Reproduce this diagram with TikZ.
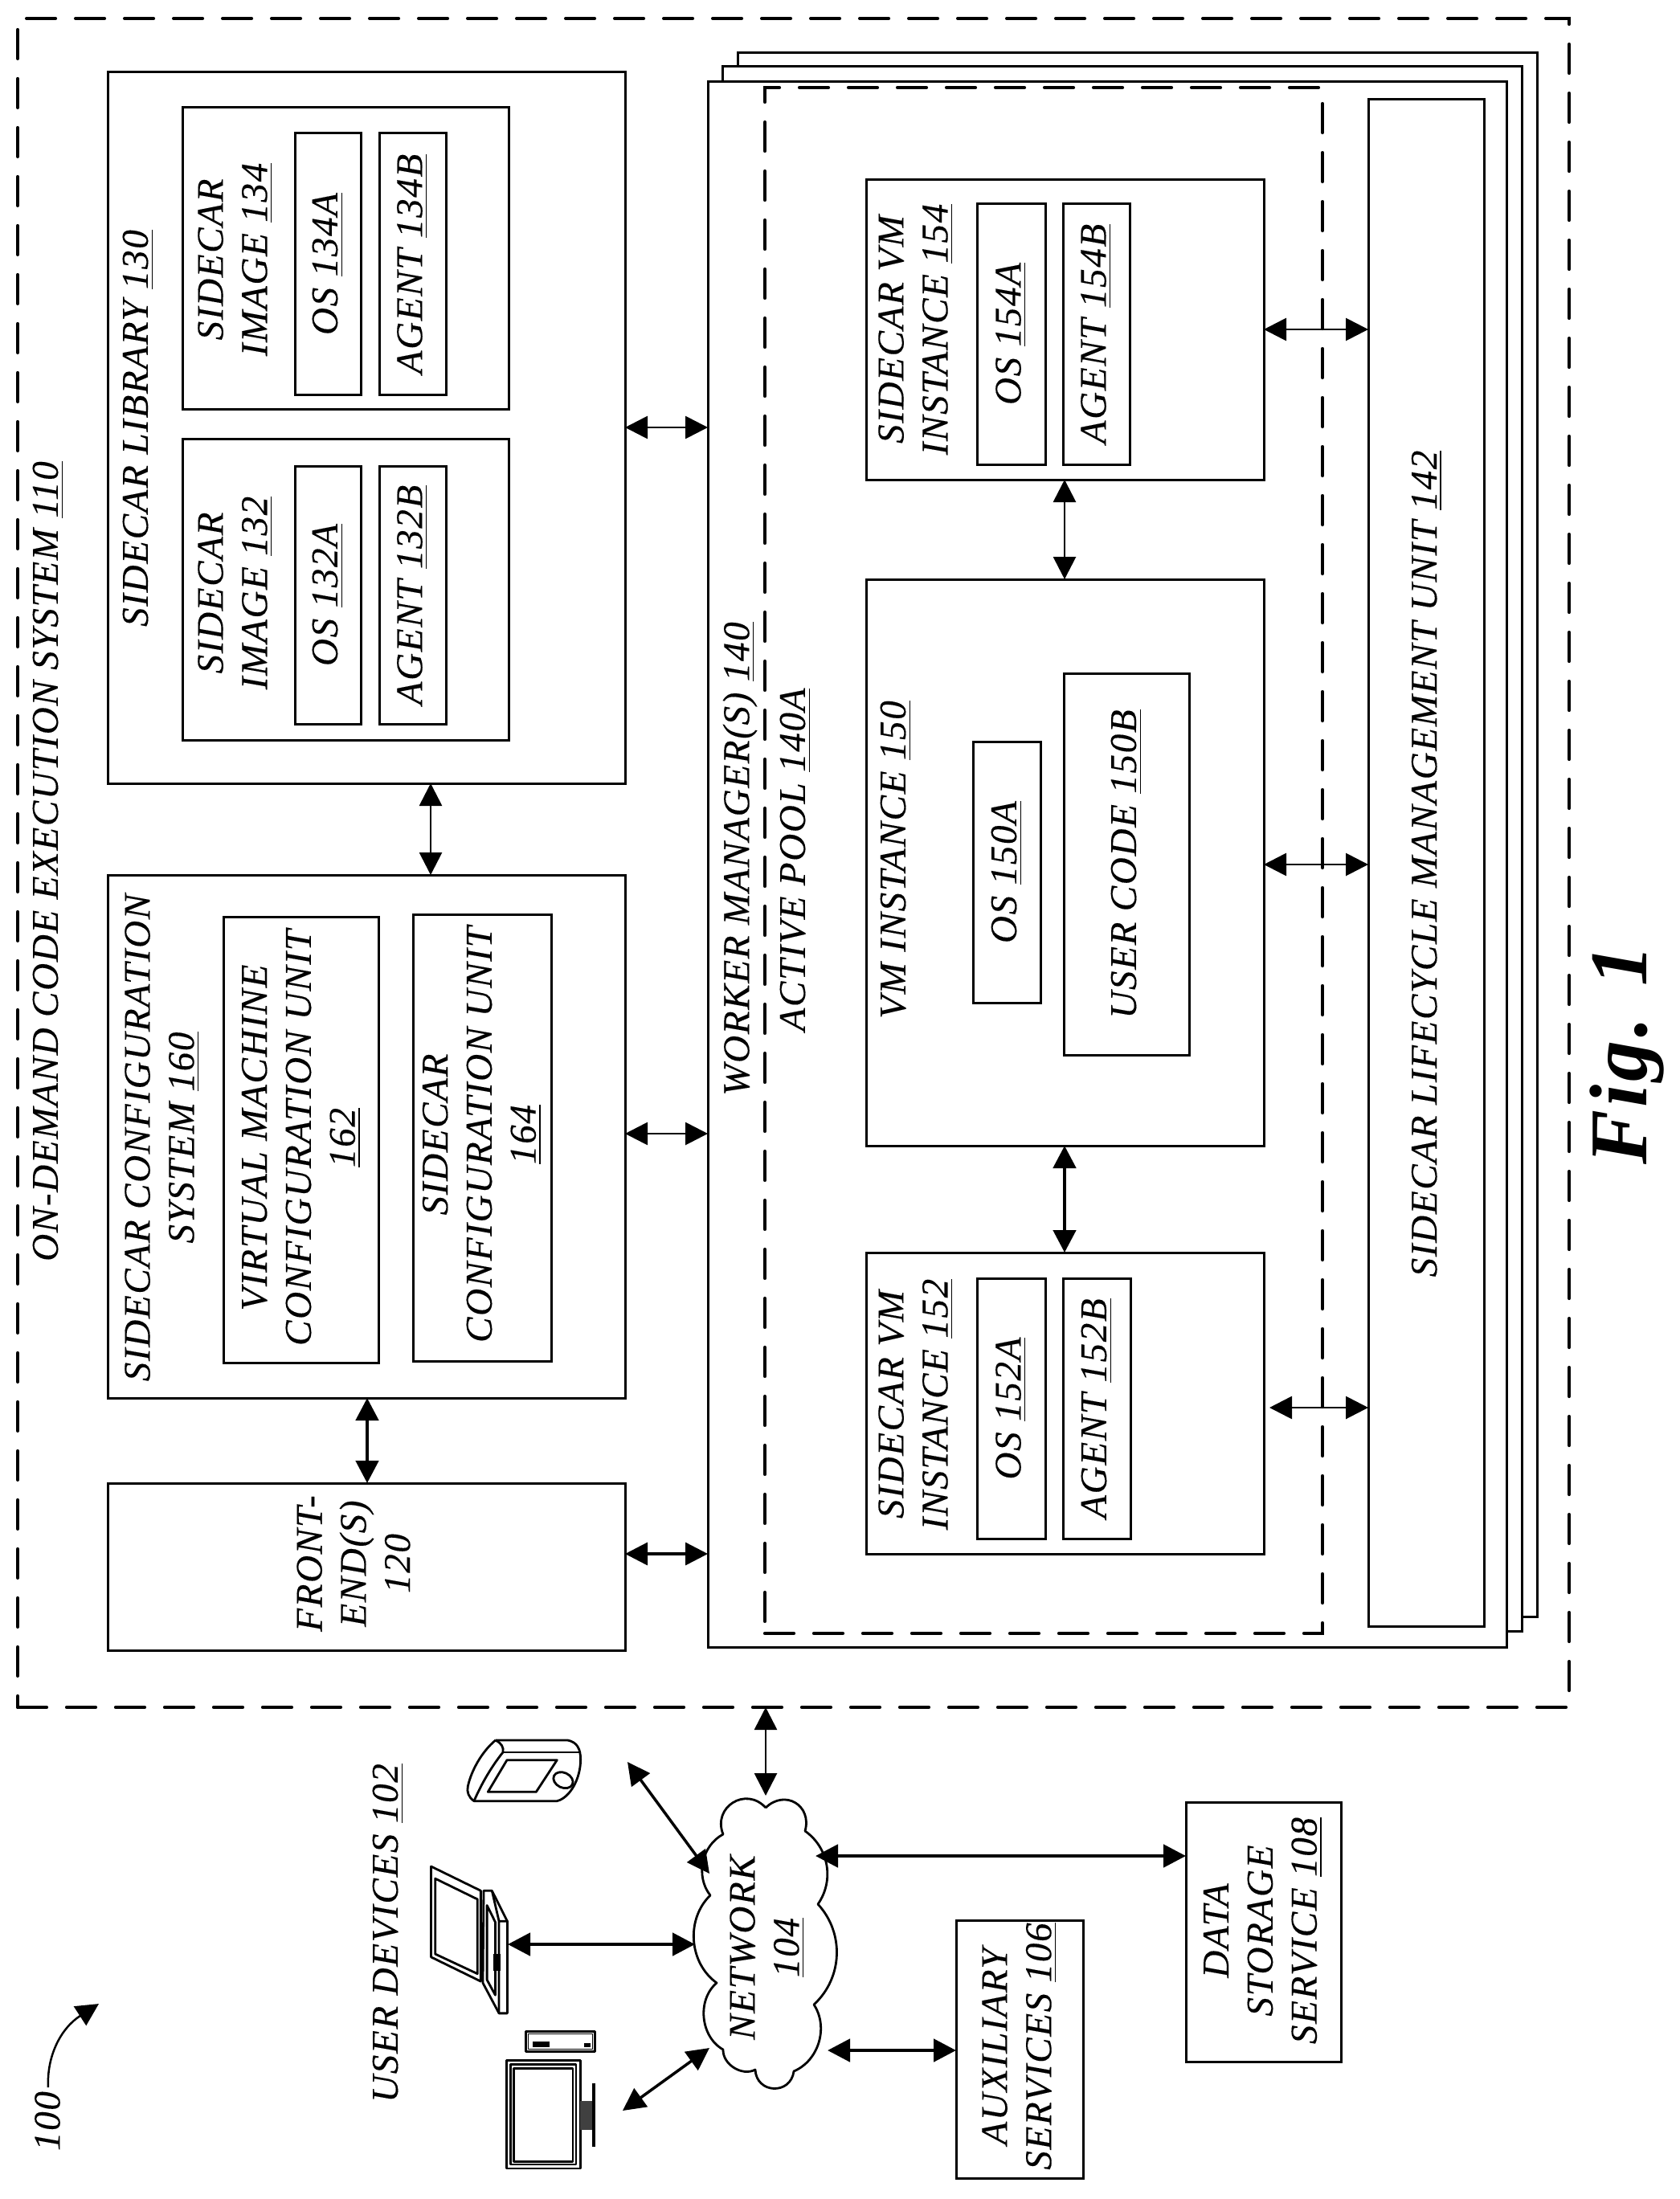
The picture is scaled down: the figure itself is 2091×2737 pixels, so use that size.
\documentclass[tikz,border=0pt]{standalone}
\usepackage{fontspec}
\setmainfont[LetterSpace=3.5,ItalicFeatures={FakeBold=0.2}]{Liberation Serif}
\usepackage{xcolor}
\usepackage{tikz}
\usetikzlibrary{arrows.meta, positioning, calc}
\newcommand{\refn}[1]{\underline{#1}}

\begin{document}
\begin{tikzpicture}[
    x=0.1mm, y=-0.1mm,
    box/.style 2 args={rectangle, draw=black, fill=white, line width=0.3mm, inner sep=0pt,
                      outer sep=0pt, minimum width=#1*0.1mm, minimum height=#2*0.1mm},
    pool/.style 2 args={rectangle, draw=black, line width=0.42mm, inner sep=0pt, outer sep=0pt,
                      dash pattern=on 3.6mm off 2.5mm, line cap=round,
                      minimum width=#1*0.1mm, minimum height=#2*0.1mm},
    lab/.style={rotate=90, align=center, inner sep=0pt,
                font=\fontsize{13.4}{15.6}\selectfont\itshape},
    arrow/.style={{Triangle[length=2.8mm,width=2.8mm]}-{Triangle[length=2.8mm,width=2.8mm]},
                  line width=0.28mm, color=black},
    thickarrow/.style={arrow, line width=0.48mm},
    device/.style={line width=0.28mm, line join=round}
  ]
    \useasboundingbox (0,0) rectangle (2091,2737);

    % System frame
    \node[pool={1931}{2102}] (sys) at (987.5,1074) {};
    \node[lab] (systext) at (60,1072) {ON-DEMAND CODE EXECUTION SYSTEM \refn{110}};

    % Sidecar library
    \node[box={644}{885}] (lib) at (456,532.5) {};
    \node[lab] (libtext) at (172,533) {SIDECAR LIBRARY \refn{130}};
    \node[box={406}{375}] (img134) at (430,321.5) {};
    \node[lab] (img134text) at (293,323) {SIDECAR\\IMAGE \refn{134}};
    \node[box={82}{325}] (os134) at (408,328.5) {};
    \node[lab] (os134text) at (os134) {OS \refn{134A}};
    \node[box={83}{325}] (ag134) at (513.5,328.5) {};
    \node[lab] (ag134text) at (ag134) {AGENT \refn{134B}};
    \node[box={406}{375}] (img132) at (430,733.5) {};
    \node[lab] (img132text) at (293,738) {SIDECAR\\IMAGE \refn{132}};
    \node[box={82}{321}] (os132) at (408,740.5) {};
    \node[lab] (os132text) at (os132) {OS \refn{132A}};
    \node[box={83}{321}] (ag132) at (513.5,740.5) {};
    \node[lab] (ag132text) at (ag132) {AGENT \refn{132B}};

    % Sidecar configuration
    \node[box={644}{651}] (conf) at (456,1414.5) {};
    \node[lab] (conftext) at (202,1416) {SIDECAR CONFIGURATION\\SYSTEM \refn{160}};
    \node[box={193}{555}] (vm162) at (374.5,1418.5) {};
    \node[lab] (vm162text) at (375,1416) {VIRTUAL MACHINE\\CONFIGURATION UNIT\\\refn{162}};
    \node[box={172}{556}] (sc164) at (600,1416) {};
    \node[lab] (sc164text) at (600,1412) {SIDECAR\\CONFIGURATION UNIT\\\refn{164}};

    % Front end
    \node[box={644}{208}] (fe) at (456,1950) {};
    \node[lab] (fetext) at (440,1946) {FRONT-\\END(S)\\120};

    % Worker managers
    \node[box={995}{1946}] (stackc) at (1415.5,1039) {};
    \node[box={995}{1947}] (stackb) at (1396.5,1056.5) {};
    \node[box={994}{1948}] (wm) at (1378,1076) {};
    \node[lab] (wmtext) at (921,1069) {WORKER MANAGER(S) \refn{140}};
    \node[pool={694}{1924}] (active) at (1299,1071) {};
    \node[lab] (activetext) at (990,1070) {ACTIVE POOL \refn{140A}};
    \node[box={144}{1900}] (life) at (1775,1074) {};
    \node[lab] (lifetext) at (1776,1075) {SIDECAR LIFECYCLE MANAGEMENT UNIT \refn{142}};

    % Instances
    \node[box={495}{373}] (vm154) at (1325.5,410.5) {};
    \node[lab] (vm154text) at (1140,410) {SIDECAR VM\\INSTANCE \refn{154}};
    \node[box={85}{325}] (os154) at (1258.5,415.5) {};
    \node[lab] (os154text) at (os154) {OS \refn{154A}};
    \node[box={83}{325}] (ag154) at (1364.5,415.5) {};
    \node[lab] (ag154text) at (ag154) {AGENT \refn{154B}};
    \node[box={495}{705}] (vm150) at (1325.5,1073.5) {};
    \node[lab] (vm150text) at (1115,1070) {VM INSTANCE \refn{150}};
    \node[box={84}{325}] (os150) at (1253,1085.5) {};
    \node[lab] (os150text) at (os150) {OS \refn{150A}};
    \node[box={156}{475}] (code150) at (1402,1075.5) {};
    \node[lab] (code150text) at (code150) {USER CODE \refn{150B}};
    \node[box={495}{375}] (vm152) at (1325.5,1746.5) {};
    \node[lab] (vm152text) at (1140,1748) {SIDECAR VM\\INSTANCE \refn{152}};
    \node[box={85}{324}] (os152) at (1258.5,1753) {};
    \node[lab] (os152text) at (os152) {OS \refn{152A}};
    \node[box={84}{324}] (ag152) at (1365,1753) {};
    \node[lab] (ag152text) at (ag152) {AGENT \refn{152B}};

    % Outside services
    \node[box={158}{321}] (aux) at (1269,2550.5) {};
    \node[lab] (auxtext) at (1269,2547) {AUXILIARY\\SERVICES \refn{106}};
    \node[box={193}{323}] (data) at (1572.5,2404.5) {};
    \node[lab] (datatext) at (1572,2403) {DATA\\STORAGE\\SERVICE \refn{108}};

    % Network cloud
    \draw[device] (953,2250) to[bend left=75, looseness=1.5] (1002,2279)
      to[bend left=45] (1018,2370) to[bend left=45] (1013,2495)
      to[bend left=50] (988,2578) to[bend left=85, looseness=1.6] (940,2576)
      to[bend left=60] (900,2551) to[bend left=55] (892,2468)
      to[bend left=50] (884,2359) to[bend left=50] (900,2283)
      to[bend left=80, looseness=1.5] (953,2250);
    \node[lab] (net) at (955,2424) {NETWORK\\\refn{104}};
    \coordinate (nettop) at (953,2235);
    \coordinate (netdata) at (1015,2310);
    \coordinate (netaux) at (1030,2552);
    \coordinate (netpda) at (883,2332);
    \coordinate (netlaptop) at (865,2420);
    \coordinate (netdesk) at (883,2549);

    % User devices
    \node[lab] (devtext) at (483,2406) {USER DEVICES \refn{102}};
    \coordinate (pda) at (781,2193);
    \coordinate (laptop) at (632,2420);
    \coordinate (desk) at (775,2627);
    \begin{scope}[shift={(550,2150)}, x=0.03333mm, y=-0.03333mm, device]
      \draw (200,48) -- (470,48) .. controls (505,55) and (518,80) .. (518,120)
        .. controls (518,190) and (480,262) .. (430,275) -- (120,275)
        .. controls (100,262) and (92,240) .. (97,220) .. controls (110,160) and (150,90) .. (200,48);
      \draw (200,48) .. controls (222,58) and (232,75) .. (228,93) .. controls (190,140) and (150,205) .. (120,275);
      \draw (228,93) -- (516,93);
      \draw (243,122) -- (430,122) -- (352,241) -- (172,241) -- cycle;
      \draw[rotate around={-25:(453,197)}] (453,197) ellipse (38 and 28);
    \end{scope}
    \begin{scope}[shift={(-4,2150)}, x=0.05157mm, y=-0.03785mm, device]
      \draw (1048,457) -- (1168,537) -- (1168,835) -- (1048,755) -- cycle;
      \draw (1058,497) -- (1160,565) -- (1160,810) -- (1058,745) -- cycle;
      \draw (1175,537) -- (1195,537) -- (1232,637) -- (1232,940) -- (1212,940) -- (1173,840) -- cycle;
      \draw (1195,537) -- (1212,637) -- (1232,637) (1212,637) -- (1212,940);
      \draw (1183,585) -- (1203,640) -- (1203,880) -- (1183,830) -- cycle;
      \fill (1198,745) rectangle (1215,800);
    \end{scope}
    \begin{scope}[shift={(-5,2147)}, x=0.05157mm, y=-0.03785mm, device]
      \draw (1232,1103) rectangle (1410,1458);
      \draw (1242,1117) rectangle (1400,1445);
      \draw (1250,1130) rectangle (1392,1435);
      \fill[black!75] (1410,1235) rectangle (1440,1330);
      \draw[line width=0.45mm] (1443,1177) -- (1443,1388);
      \draw (1278,1008) rectangle (1446,1074);
      \draw[line width=0.15mm] (1285,1016) rectangle (1440,1066);
      \fill (1295,1042) rectangle (1335,1058);
      \fill (1420,1045) rectangle (1435,1060);
    \end{scope}

    % Reference numeral
    \node[lab] (fignum) at (59,2640) {100};
    \coordinate (figstart) at (60,2598);
    \coordinate (figtip) at (123,2494);
    \draw[-{Triangle[length=2.8mm,width=2.8mm]}, line width=0.25mm] (figstart) .. controls (58,2560) and (75,2525) .. (figtip);

    % Figure caption
    \node[lab, anchor=base, font=\fontsize{29}{34}\selectfont\bfseries\itshape] (figcap) at (2049,1313) {Fig. 1};

    % Arrows
    \draw[arrow] (lib.east |- 0,532) -- (wm.west |- 0,532);
    \draw[arrow] (conf.east |- 0,1411) -- (wm.west |- 0,1411);
    \draw[thickarrow, line width=0.35mm] (fe.east |- 0,1934) -- (wm.west |- 0,1934);
    \draw[arrow] (lib.south -| 536,0) -- (conf.north -| 536,0);
    \draw[thickarrow] (conf.south -| 457,0) -- (fe.north -| 457,0);
    \draw[arrow] (vm154.south -| 1325,0) -- (vm150.north -| 1325,0);
    \draw[thickarrow] (vm150.south -| 1325,0) -- (vm152.north -| 1325,0);
    \draw[arrow] (vm154.east |- 0,410) -- (life.west |- 0,410);
    \draw[arrow] (vm150.east |- 0,1076) -- (life.west |- 0,1076);
    \draw[arrow] ([xshift=0.7mm]vm152.east |- 0,1752) -- (life.west |- 0,1752);
    \draw[arrow] (sys.south -| 953,0) -- (nettop);
    \draw[thickarrow] (netdata) -- (data.west |- netdata);
    \draw[thickarrow] (netaux) -- (aux.west |- netaux);
    \draw[thickarrow] (netlaptop) -- (laptop);
    \draw[thickarrow, line width=0.35mm] (netpda) -- (pda);
    \draw[thickarrow, line width=0.35mm] (netdesk) -- (desk);
  \end{tikzpicture}
\end{document}
